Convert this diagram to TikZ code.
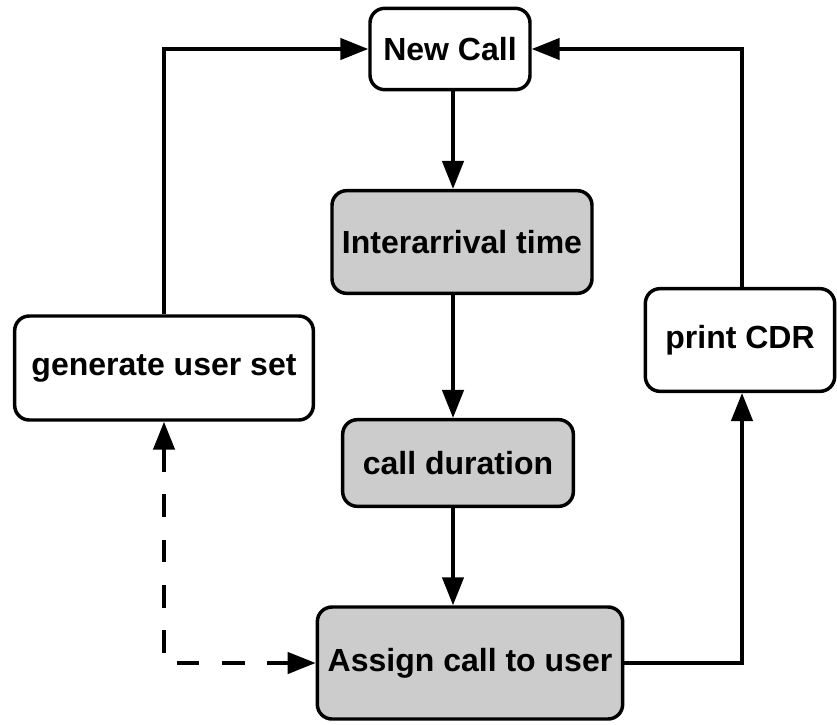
\documentclass[tikz,border=0pt]{standalone}
\usepackage{fontspec}
\setmainfont{Liberation Sans}
\usetikzlibrary{arrows.meta}
\usetikzlibrary{positioning}

\definecolor{boxgray}{RGB}{204,204,204}

\begin{document}
\begin{tikzpicture}[
        x=0.75pt, y=-0.75pt,
        line width=2.6pt,
        >={Triangle[length=21pt,width=16pt]},
        box/.style = {draw, rounded corners=11pt, inner sep=0pt,
                font=\fontsize{24}{28}\selectfont\bfseries},
        plain/.style = {box, fill=white},
        shaded/.style = {box, fill=boxgray},
        dashline/.style = {dash pattern=on 17pt off 17pt}
    ]
    \useasboundingbox (0,0) rectangle (837,724);

    \node[plain, minimum width=120pt, minimum height=61pt] (NewCall) at (450,49) {New Call};
    \node[shaded, minimum width=195pt, minimum height=77pt] (Inter) at (462,242) {Interarrival time};
    \node[shaded, minimum width=173pt, minimum height=65pt] (Duration) at (458,463) {call duration};
    \node[shaded, minimum width=229pt, minimum height=84pt] (Assign) at (470,663) {Assign call to user};
    \node[plain, minimum width=224pt, minimum height=78pt] (GenUsers) at (164,368) {generate user set};
    \node[plain, minimum width=142pt, minimum height=77pt] (PrintCDR) at (740,340) {print CDR};

    \coordinate (Col) at (453,0);
    \coordinate (Right) at (742,0);

    % main column
    \draw[->] (NewCall.south -| Col) -- (Inter.north -| Col);
    \draw[->] (Inter.south -| Col) -- (Duration.north -| Col);
    \draw[->] (Duration.south -| Col) -- (Assign.north -| Col);

    % loop back
    \draw[->] (Assign.east) -| (PrintCDR.south -| Right);
    \draw[->] (PrintCDR.north -| Right) |- (NewCall.east);
    \draw[->] (GenUsers.north) |- (NewCall.west);
    \draw[<->, dashline] (GenUsers.south) |- (Assign.west);
\end{tikzpicture}
\end{document}
